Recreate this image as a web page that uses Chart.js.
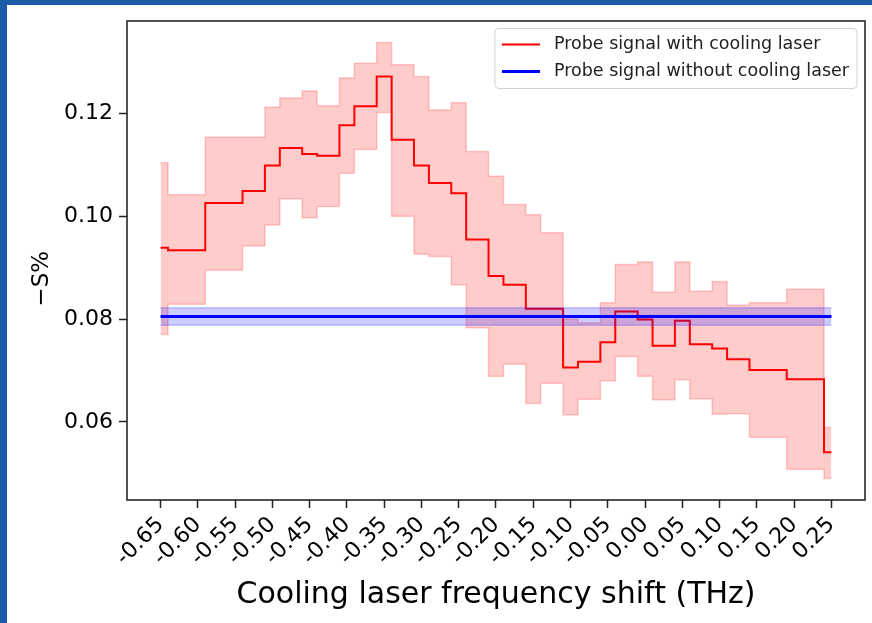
<html>
<head>
<script src="https://cdn.jsdelivr.net/npm/chart.js@4.4.1/dist/chart.umd.min.js"></script>
<style>
body { margin: 0; background: #1b5ba7; }
#wrap { position: absolute; left: 7px; top: 5px; width: 865px; height: 618px; background: #fff; }
</style>
</head>
<body>
<div id="wrap"><canvas id="myChart" width="865" height="618"></canvas></div>
<script type="text/javascript">

// step start positions (THz); the last entry closes the final step
const freqShift = [-0.65, -0.64, -0.59, -0.54, -0.51, -0.49, -0.46, -0.44, -0.41, -0.39,
	-0.36, -0.34, -0.31, -0.29, -0.26, -0.24, -0.21, -0.19, -0.16, -0.14,
	-0.11, -0.09, -0.06, -0.04, -0.01, 0.01, 0.04, 0.06, 0.09, 0.11,
	0.14, 0.19, 0.24, 0.25];

const withCooling = [0.0939, 0.0934, 0.1026, 0.1049, 0.1099, 0.1133, 0.1121, 0.1118, 0.1177, 0.1214,
	0.1272, 0.1149, 0.1099, 0.1065, 0.1045, 0.0955, 0.0884, 0.0867, 0.0820, 0.0820,
	0.0706, 0.0717, 0.0755, 0.0815, 0.0799, 0.0748, 0.0797, 0.0751, 0.0743, 0.0722,
	0.0701, 0.0683, 0.0541, 0.0541];

const withCoolingUpper = [0.1104, 0.1042, 0.1154, 0.1154, 0.1212, 0.1230, 0.1244, 0.1215, 0.1269, 0.1298,
	0.1338, 0.1295, 0.1272, 0.1207, 0.1221, 0.1126, 0.1078, 0.1023, 0.1003, 0.0968,
	0.0800, 0.0793, 0.0832, 0.0906, 0.0911, 0.0852, 0.0911, 0.0854, 0.0873, 0.0827,
	0.0832, 0.0858, 0.0589, 0.0589];

const withCoolingLower = [0.0770, 0.0829, 0.0895, 0.0942, 0.0983, 0.1034, 0.0997, 0.1019, 0.1084, 0.1130,
	0.1202, 0.1000, 0.0926, 0.0922, 0.0867, 0.0783, 0.0689, 0.0712, 0.0636, 0.0675,
	0.0614, 0.0644, 0.0680, 0.0727, 0.0689, 0.0643, 0.0682, 0.0645, 0.0615, 0.0616,
	0.0570, 0.0508, 0.0490, 0.0490];

const noCoolingX = [-0.65, 0.25];
const noCooling = [0.0805, 0.0805];
const noCoolingUpper = [0.0822, 0.0822];
const noCoolingLower = [0.0788, 0.0788];

const xTicks = [-0.65, -0.60, -0.55, -0.50, -0.45, -0.40, -0.35, -0.30, -0.25, -0.20,
	-0.15, -0.10, -0.05, 0.00, 0.05, 0.10, 0.15, 0.20, 0.25];
const yTicks = [0.06, 0.08, 0.10, 0.12];

const FONT = "DejaVu Sans";

function pts(xs, ys){
	return xs.map((x, i) => ({x: x, y: ys[i]}));
}

// box round the whole plot area
const frame = {
	id: "frame",
	afterDatasetsDraw(chart){
		const ctx = chart.ctx, a = chart.chartArea;
		ctx.save();
		ctx.strokeStyle = "#262626";
		ctx.lineWidth = 1.6;
		ctx.strokeRect(a.left, a.top, a.right - a.left, a.bottom - a.top);
		ctx.restore();
	}
};

// legend box in the upper right corner of the plot
const boxLegend = {
	id: "boxLegend",
	afterDraw(chart){
		const ctx = chart.ctx, a = chart.chartArea;
		const items = chart.data.datasets.filter(d => d.label);
		ctx.save();
		ctx.font = "17.5px '" + FONT + "'";
		let textW = 0;
		items.forEach(d => textW = Math.max(textW, ctx.measureText(d.label).width));
		const w = 7 + 38 + 14 + textW + 8, h = 60;
		const x = a.right - 8 - w, y = a.top + 7.5, r = 4;
		ctx.beginPath();
		ctx.moveTo(x + r, y);
		ctx.arcTo(x + w, y, x + w, y + h, r);
		ctx.arcTo(x + w, y + h, x, y + h, r);
		ctx.arcTo(x, y + h, x, y, r);
		ctx.arcTo(x, y, x + w, y, r);
		ctx.closePath();
		ctx.fillStyle = "rgba(255,255,255,0.8)";
		ctx.fill();
		ctx.strokeStyle = "#d0d0d0";
		ctx.lineWidth = 1;
		ctx.stroke();
		items.forEach((d, i) => {
			const cy = y + 16 + i * 27;
			ctx.strokeStyle = d.borderColor;
			ctx.lineWidth = d.borderWidth;
			ctx.beginPath();
			ctx.moveTo(x + 7, cy);
			ctx.lineTo(x + 45, cy);
			ctx.stroke();
			ctx.fillStyle = "#222";
			ctx.textBaseline = "middle";
			ctx.fillText(d.label, x + 59, cy);
		});
		ctx.restore();
	}
};

function drawChart(){
	new Chart("myChart", {
		type: "line",
		data: {
			datasets: [{
				label: "",
				data: pts(freqShift, withCoolingLower),
				stepped: true,
				borderColor: "rgba(255,0,0,0.2)",
				borderWidth: 1.5,
				pointRadius: 0,
				fill: false,
				order: 5
			}, {
				label: "",
				data: pts(freqShift, withCoolingUpper),
				stepped: true,
				borderColor: "rgba(255,0,0,0.2)",
				backgroundColor: "rgba(255,0,0,0.2)",
				borderWidth: 1.5,
				pointRadius: 0,
				fill: "-1",
				order: 4
			}, {
				label: "Probe signal with cooling laser",
				data: pts(freqShift, withCooling),
				stepped: true,
				borderColor: "#ff0000",
				borderWidth: 2,
				pointRadius: 0,
				fill: false,
				order: 3
			}, {
				label: "",
				data: pts(noCoolingX, noCoolingLower),
				borderColor: "rgba(0,0,255,0.2)",
				borderWidth: 1.5,
				pointRadius: 0,
				fill: false,
				order: 2
			}, {
				label: "",
				data: pts(noCoolingX, noCoolingUpper),
				borderColor: "rgba(0,0,255,0.2)",
				backgroundColor: "rgba(0,0,255,0.2)",
				borderWidth: 1.5,
				pointRadius: 0,
				fill: "-1",
				order: 1
			}, {
				label: "Probe signal without cooling laser",
				data: pts(noCoolingX, noCooling),
				borderColor: "#0000ff",
				borderWidth: 3,
				pointRadius: 0,
				fill: false,
				order: 0
			}]
		},
		options: {
			responsive: false,
			animation: false,
			devicePixelRatio: 1,
			layout: {padding: {left: 0, top: 16, right: 7, bottom: 0}},
			plugins: {legend: {display: false}, tooltip: {enabled: false}},
			scales: {
				x: {
					type: "linear",
					min: -0.695,
					max: 0.295,
					afterBuildTicks: s => { s.ticks = xTicks.map(v => ({value: v})); },
					afterFit: s => { s.height = 123; s.paddingLeft = 0; s.paddingRight = 0; },
					border: {display: false},
					grid: {drawOnChartArea: false, drawTicks: true, tickLength: 8, tickColor: "#222", tickWidth: 1.5},
					ticks: {
						autoSkip: false,
						minRotation: 45,
						maxRotation: 45,
						padding: 4,
						color: "#000",
						font: {family: FONT, size: 22},
						callback: v => v.toFixed(2)
					},
					title: {
						display: true,
						text: "Cooling laser frequency shift (THz)",
						color: "#000",
						font: {family: FONT, size: 30},
						padding: {top: 0, bottom: 10}
					}
				},
				y: {
					min: 0.0448,
					max: 0.1380,
					afterBuildTicks: s => { s.ticks = yTicks.map(v => ({value: v})); },
					afterFit: s => { s.width = 120; s.paddingTop = 0; s.paddingBottom = 0; },
					border: {display: false},
					grid: {drawOnChartArea: false, drawTicks: true, tickLength: 8, tickColor: "#222", tickWidth: 1.5},
					ticks: {
						padding: 6,
						color: "#000",
						font: {family: FONT, size: 22},
						callback: v => v.toFixed(2)
					},
					title: {
						display: true,
						// trailing spaces push the label a little below the axis centre
						text: "\u2212S%\u00a0\u00a0\u00a0\u00a0\u00a0",
						color: "#000",
						font: {family: FONT, size: 23},
						padding: {top: 21, bottom: 0}
					}
				}
			}
		},
		plugins: [frame, boxLegend]
	});
}

drawChart();
</script>
</body>
</html>
